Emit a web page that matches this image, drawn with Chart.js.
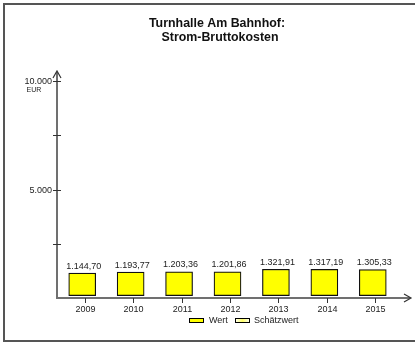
<!DOCTYPE html>
<html>
<head>
<meta charset="utf-8">
<script src="https://cdn.jsdelivr.net/npm/chart.js@4.4.0/dist/chart.umd.min.js"></script>
<style>
  body { margin: 0; background: #fff; }
  canvas { display: block; }
</style>
</head>
<body>
<canvas id="myChart" width="415" height="343"></canvas>
<script>
// Daten
var jahre = ["2009", "2010", "2011", "2012", "2013", "2014", "2015"];
var werte = [1144.70, 1193.77, 1203.36, 1201.86, 1321.91, 1317.19, 1305.33];
var yTicks = [2500, 5000, 7500, 10000];
var yLabels = { 5000: "5.000", 10000: "10.000" };
var titel = ["Turnhalle Am Bahnhof:", "Strom-Bruttokosten"];
var legende = ["Wert", "Schätzwert"];

var FONT = "'Liberation Sans', Arial, sans-serif";

// 1144.7 -> "1.144,70"
function formatDE(v){
    var s = v.toFixed(2).split(".");
    var ganz = s[0].replace(/\B(?=(\d{3})+(?!\d))/g, ".");
    return ganz + "," + s[1];
}

var deko = {
    id: 'deko',
    afterDraw: function(chart){
        var c = chart.ctx;
        var x = chart.scales.x;
        var y = chart.scales.y;
        var y0 = y.getPixelForValue(0);
        var yTop = y.getPixelForValue(10000);
        var axX = 57;
        c.save();

        // Rahmen
        c.strokeStyle = '#555';
        c.lineWidth = 2;
        c.strokeRect(4, 4, 430, 337);

        // Titel
        c.fillStyle = '#111';
        c.font = 'bold 12.4px ' + FONT;
        c.textAlign = 'center';
        c.textBaseline = 'middle';
        c.fillText(titel[0], 217, 24);
        c.fillText(titel[1], 220, 38);

        // Achsen
        c.strokeStyle = '#707070';
        c.lineWidth = 2;
        c.beginPath();
        c.moveTo(axX, yTop - 9);
        c.lineTo(axX, y0);
        c.lineTo(410, y0);
        c.stroke();
        c.lineWidth = 1.2;
        c.strokeStyle = '#333';
        c.beginPath();
        c.moveTo(axX - 4, yTop - 3);
        c.lineTo(axX, yTop - 10);
        c.lineTo(axX + 4, yTop - 3);
        c.moveTo(404, y0 - 4);
        c.lineTo(411, y0);
        c.lineTo(404, y0 + 4);
        c.stroke();

        // y-Ticks
        c.fillStyle = '#222';
        c.strokeStyle = '#333';
        c.lineWidth = 1;
        c.font = '9px ' + FONT;
        c.textAlign = 'right';
        yTicks.forEach(function(t){
            var py = Math.round(y.getPixelForValue(t)) + 0.5;
            c.beginPath();
            c.moveTo(axX - 4, py);
            c.lineTo(axX + 4, py);
            c.stroke();
            if(yLabels[t]){
                c.fillText(yLabels[t], axX - 5, py);
            }
        });
        c.textAlign = 'center';
        c.font = '7px ' + FONT;
        c.fillText("EUR", 34, yTop + 9);

        // x-Ticks und Beschriftung
        c.font = '9px ' + FONT;
        jahre.forEach(function(j, i){
            var px = Math.round(x.getPixelForValue(i) + 2.5) + 0.5;
            c.beginPath();
            c.moveTo(px, y0);
            c.lineTo(px, y0 + 5);
            c.stroke();
            c.fillText(j, px, y0 + 12);
        });

        // Werte über den Balken
        var meta = chart.getDatasetMeta(0);
        meta.data.forEach(function(bar, i){
            c.fillText(formatDE(werte[i]), bar.x + 1.5, bar.y - 7);
        });

        // Legende
        c.lineWidth = 1;
        c.strokeStyle = '#000';
        c.fillStyle = '#ffff00';
        c.fillRect(189.5, 318.5, 14, 4);
        c.strokeRect(189.5, 318.5, 14, 4);
        var g = c.createLinearGradient(235, 0, 250, 0);
        g.addColorStop(0, '#ffffff');
        g.addColorStop(0.5, '#ffff66');
        g.addColorStop(1, '#ffffff');
        c.fillStyle = g;
        c.fillRect(235.5, 318.5, 14, 4);
        c.strokeRect(235.5, 318.5, 14, 4);
        c.fillStyle = '#222';
        c.textAlign = 'left';
        c.font = '9px ' + FONT;
        c.fillText(legende[0], 209, 321);
        c.fillText(legende[1], 254, 321);

        c.restore();
    }
};

var ctx = document.getElementById('myChart').getContext('2d');
var myChart = new Chart(ctx, {
    type: 'bar',
    data: {
        labels: jahre,
        datasets: [{
            label: legende[0],
            data: werte,
            base: 110,
            backgroundColor: '#ffff00',
            borderColor: '#111',
            borderWidth: 1.2,
            borderSkipped: false,
            barThickness: 27
        }]
    },
    options: {
        responsive: false,
        animation: false,
        layout: { padding: { left: 58, right: 18, top: 81, bottom: 45 } },
        plugins: {
            legend: { display: false },
            title: { display: false },
            tooltip: { enabled: false }
        },
        scales: {
            x: { display: false, offset: true },
            y: { display: false, min: 0, max: 10000 }
        }
    },
    plugins: [deko]
});
</script>
</body>
</html>
